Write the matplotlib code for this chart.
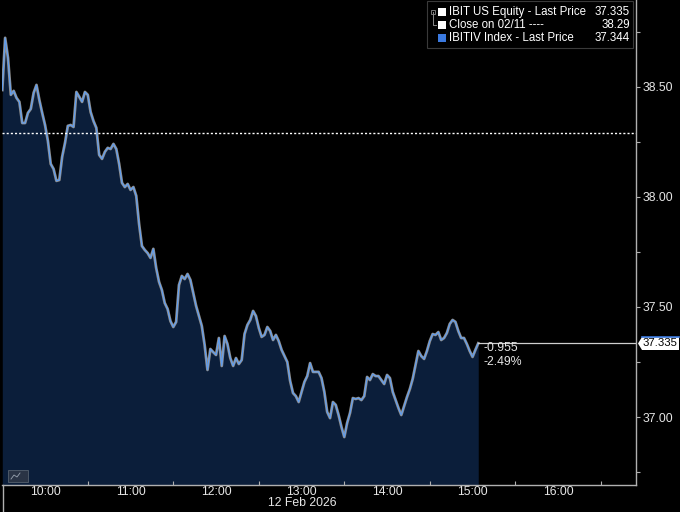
import numpy as np
import matplotlib
matplotlib.use("Agg")
import matplotlib.pyplot as plt
from matplotlib.patches import Rectangle, Polygon
from matplotlib.lines import Line2D

plt.rcParams['font.family'] = ['Liberation Sans', 'DejaVu Sans']

# IBIT 2-minute closes from 09:30, 12 Feb 2026
prices = [
    38.486, 38.723, 38.632, 38.464, 38.482, 38.450, 38.432, 38.336, 38.336, 38.382,
    38.400, 38.473, 38.509, 38.441, 38.382, 38.327, 38.255, 38.150, 38.127, 38.073,
    38.077, 38.182, 38.245, 38.323, 38.327, 38.318, 38.477, 38.455, 38.432, 38.477,
    38.464, 38.386, 38.345, 38.314, 38.191, 38.173, 38.205, 38.223, 38.218, 38.241,
    38.218, 38.150, 38.064, 38.045, 38.059, 38.032, 38.045, 38.005, 37.877, 37.777,
    37.759, 37.745, 37.723, 37.764, 37.677, 37.614, 37.577, 37.518, 37.491, 37.436,
    37.409, 37.432, 37.600, 37.641, 37.627, 37.650, 37.623, 37.564, 37.505, 37.459,
    37.414, 37.327, 37.214, 37.309, 37.295, 37.282, 37.359, 37.232, 37.368, 37.332,
    37.268, 37.232, 37.268, 37.241, 37.259, 37.377, 37.418, 37.441, 37.482, 37.459,
    37.405, 37.364, 37.373, 37.409, 37.391, 37.350, 37.373, 37.345, 37.305, 37.277,
    37.250, 37.164, 37.109, 37.095, 37.068, 37.114, 37.159, 37.186, 37.245, 37.205,
    37.205, 37.205, 37.177, 37.114, 37.023, 36.995, 37.068, 37.055, 37.009, 36.955,
    36.909, 36.973, 37.018, 37.086, 37.082, 37.086, 37.077, 37.095, 37.182, 37.168,
    37.195, 37.186, 37.186, 37.168, 37.150, 37.191, 37.177, 37.114, 37.077, 37.041,
    37.009, 37.050, 37.091, 37.127, 37.173, 37.236, 37.300, 37.277, 37.264, 37.300,
    37.345, 37.377, 37.373, 37.386, 37.350, 37.359, 37.382, 37.423, 37.441, 37.432,
    37.391, 37.359, 37.359, 37.332, 37.300, 37.273, 37.305, 37.335,
]
step_min = 2
prev_close = 38.29
last_price = 37.335
chg = -0.955
chg_pct = -2.49

hour_labels = ['10:00', '11:00', '12:00', '13:00', '14:00', '15:00', '16:00']
date_label = '12 Feb 2026'
legend_rows = [('IBIT US Equity - Last Price', '37.335', 'white'),
               ('Close on 02/11 ----', '38.29', 'white'),
               ('IBITIV Index - Last Price', '37.344', '#3b7ae0')]

t = np.arange(len(prices)) * step_min  # minutes since 09:30
p = np.array(prices)

W, H = 680, 512
fs = 8.8
fig = plt.figure(figsize=(6.8, 5.12), dpi=100, facecolor='black')
ax = fig.add_axes([2 / W, 27 / H, 634 / W, 485 / H], facecolor='black')

ymin, ymax = 36.691, 38.895
ax.set_xlim(-0.2, 444.7)
ax.set_ylim(ymin, ymax)

ax.fill_between(t, p, ymin, color='#0b1e3a', lw=0)
ax.plot(t, p, color='#8e8e8e', lw=2.0)
ax.plot(t, p, color='#d8d8d8', lw=0.4, alpha=0.7)
ax.plot(t, p, color='#5b9bf0', lw=0.8)

# previous close
ax.axhline(prev_close, color='white', lw=1, ls=(0, (1.5, 1.5)))
# last price line to the axis
ax.plot([t[-1], 444.7], [last_price, last_price], color='#cfcfcf', lw=0.9)

ax.text(t[-1] + 4, last_price - 0.022, f'{chg:.3f}', color='#e6e6e6', fontsize=fs, va='center')
ax.text(t[-1] + 4, last_price - 0.086, f'{chg_pct:.2f}%', color='#e6e6e6', fontsize=fs, va='center')

# axes styling
for s in ['top', 'left']:
    ax.spines[s].set_visible(False)
for s in ['right', 'bottom']:
    ax.spines[s].set_color('#b0b0b0')
    ax.spines[s].set_linewidth(1)

ax.yaxis.tick_right()
ax.set_yticks([37.0, 37.5, 38.0, 38.5])
ax.set_yticklabels([f'{v:.2f}' for v in [37.0, 37.5, 38.0, 38.5]])
ax.set_yticks([36.75, 37.25, 37.75, 38.25, 38.75], minor=True)
ax.tick_params(axis='y', which='both', colors='#b0b0b0', labelcolor='#e6e6e6',
               labelsize=fs, length=3, width=0.8, direction='out', pad=2)

ax.set_xticks([30 + 60 * i for i in range(7)])
ax.set_xticklabels(hour_labels)
ax.set_xticks([60 + 60 * i for i in range(7)], minor=True)
ax.tick_params(axis='x', which='major', length=0, labelcolor='#e6e6e6', labelsize=fs, pad=1)
ax.tick_params(axis='x', which='minor', length=3, width=0.8, colors='#b0b0b0', direction='in')

fig.text(302 / W, 1 - 503 / H, date_label, color='#e6e6e6', fontsize=fs, ha='center', va='center')

# left edge line below the axis
fig.add_artist(Line2D([2.5 / W, 2.5 / W], [0, 27 / H], color='#b0b0b0', lw=1))

# last price tag
tag = Polygon([(638 / W, 1 - 343.5 / H), (642 / W, 1 - 337 / H), (679 / W, 1 - 337 / H),
               (679 / W, 1 - 350 / H), (642 / W, 1 - 350 / H)], closed=True,
              fc='white', ec='none', transform=fig.transFigure)
fig.add_artist(tag)
fig.add_artist(Line2D([642 / W, 679 / W], [1 - 337 / H, 1 - 337 / H], color='#3b7ae0', lw=1.2))
fig.text(660 / W, 1 - 343.5 / H, f'{last_price:.3f}', color='black', fontsize=8.2,
         ha='center', va='center')

# legend box
fig.add_artist(Rectangle((427 / W, 1 - 48 / H), 206 / W, 47 / H, fc='black',
                         ec='#3a3a3a', lw=0.8))
for i, (name, val, col) in enumerate(legend_rows):
    yc = 12 + 13 * i
    fig.add_artist(Rectangle((438 / W, 1 - (yc + 4) / H), 8 / W, 8 / H, fc=col, ec='none'))
    fig.text(449 / W, 1 - yc / H, name, color='white', fontsize=8.3, va='center')
    fig.text(630 / W, 1 - yc / H, val, color='white', fontsize=8.3, va='center', ha='right')
# small tree marker
fig.add_artist(Line2D([433 / W, 433 / W, 436 / W], [1 - 12 / H, 1 - 25 / H, 1 - 25 / H],
                      color='#888888', lw=0.7))
fig.add_artist(Rectangle((431 / W, 1 - 14 / H), 4 / W, 4 / H, fc='none', ec='#888888', lw=0.6))

# chart icon bottom-left
fig.add_artist(Rectangle((8 / W, 1 - 482 / H), 20 / W, 12 / H, fc='#2a3445', ec='#55606e', lw=0.6))
fig.add_artist(Line2D([11 / W, 14 / W, 17 / W, 20 / W], [1 - 479 / H, 1 - 475 / H, 1 - 477 / H, 1 - 473 / H],
                      color='#9aa4b0', lw=0.6))

fig.savefig('out.png', dpi=100, facecolor='black')
